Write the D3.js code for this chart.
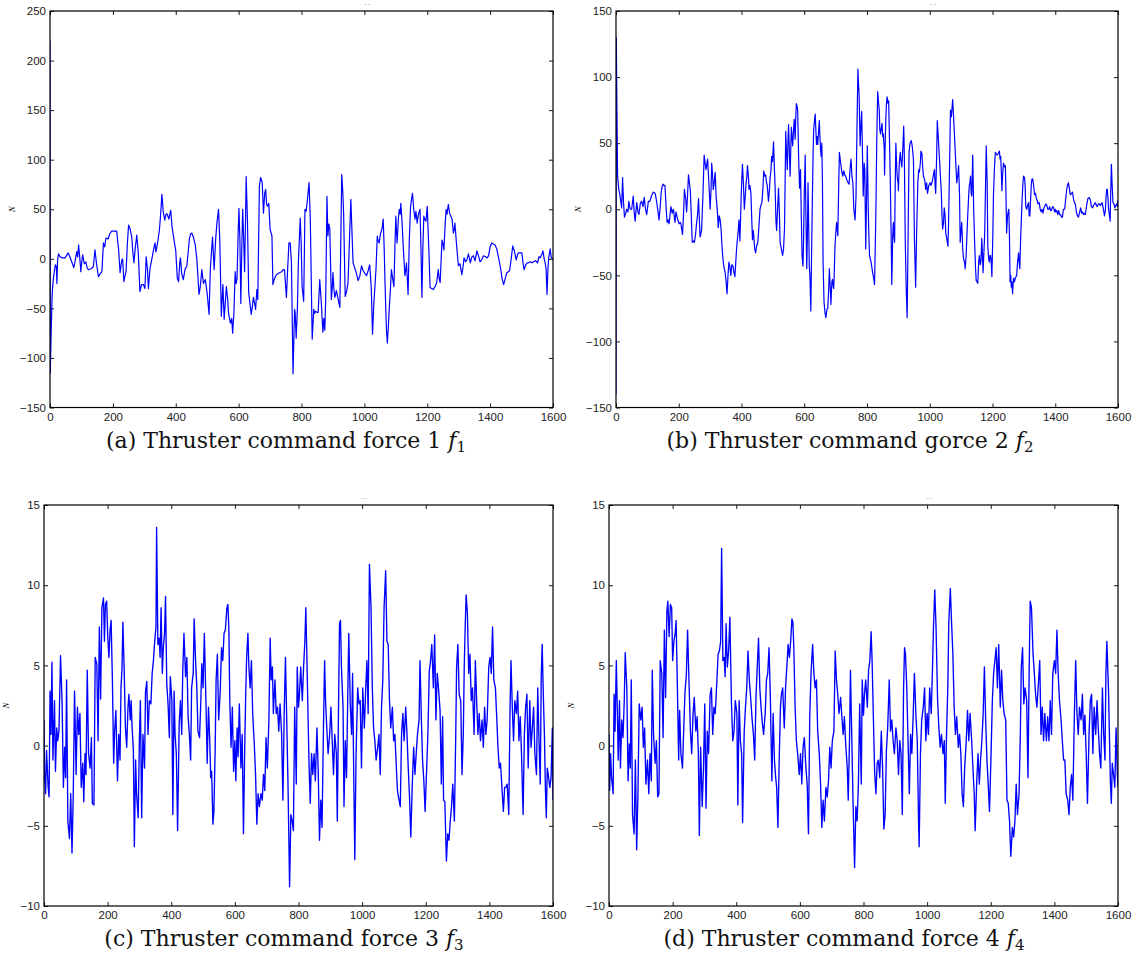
<!DOCTYPE html>
<html>
<head>
<meta charset="utf-8">
<script src="https://cdn.jsdelivr.net/npm/d3@7"></script>
<style>
  body { margin: 0; background: #fff; }
  svg { display: block; }
</style>
</head>
<body>
<svg id="chart" width="1139" height="966"></svg>
<script>
// time steps (x) shared by all four panels
const xTicks = [0, 200, 400, 600, 800, 1000, 1200, 1400, 1600];
const yTicksAB = [-150, -100, -50, 0, 50, 100, 150, 200, 250];
const yTicksCD = [-10, -5, 0, 5, 10, 15];

// thruster command force 1, [step, N]
const forceA = [[0,220],[1,-115],[4,-70],[7,-35],[10,-22],[14,-12],[17,-6],[20,-8],[22,-25],[24,-2],[27,5],
[32,2],[40,1],[48,1],[54,4],[58,6],[63,2],[69,-3],[76,-9],[80,-2],[85,7],[88,2],[91,14],[95,0],[98,-13],[101,-3],[104,4],[109,-5],[114,-3],[118,-9],[122,-11],[130,-10],[138,-8],[143,9],[148,-5],[154,-18],[160,-15],[165,-13],[170,16],[174,12],[178,21],[185,20],[190,25],[196,28],[204,28],[212,28],[218,10],[223,-14],[228,-2],[231,0],[235,-23],[238,-18],[242,-13],[246,15],[250,34],[255,30],[260,22],[264,5],[267,-4],[271,10],[276,24],[281,5],[286,-33],[291,-26],[297,-26],[302,-30],[306,2],[310,-10],[313,-30],[318,-10],[324,0],[330,10],[334,16],[337,7],[340,12],[344,20],[348,29],[352,45],[356,65],[360,48],[365,39],[369,45],[373,45],[378,40],[384,49],[388,33],[393,22],[400,8],[405,-20],[409,-23],[413,-3],[415,1],[419,-15],[424,-21],[430,-10],[435,-8],[440,8],[443,19],[447,25],[451,26],[456,22],[462,14],[467,0],[471,-20],[474,-36],[478,-28],[483,-11],[488,-25],[494,-21],[500,-35],[506,-56],[510,-10],[517,22],[522,-11],[527,20],[531,36],[536,50],[540,20],[545,-58],[550,-26],[554,-61],[561,-28],[565,-40],[568,-55],[574,-65],[578,-60],[581,-75],[585,-55],[589,-13],[592,-25],[595,-20],[598,20],[601,51],[604,20],[607,-45],[610,10],[613,50],[616,20],[619,-13],[622,40],[624,83],[628,40],[632,-34],[636,-45],[640,-56],[643,-50],[647,-39],[651,-45],[654,-51],[658,-31],[661,-41],[666,73],[670,82],[675,77],[679,46],[683,66],[686,70],[689,55],[692,53],[696,56],[700,30],[706,23],[709,-26],[714,-20],[720,-16],[725,-15],[730,-14],[737,-13],[742,-11],[746,-11],[752,-39],[756,-10],[760,16],[764,16],[768,-4],[773,-116],[778,-51],[780,-55],[783,-80],[787,-50],[790,-4],[796,41],[799,15],[802,-28],[807,-43],[811,50],[815,48],[819,60],[824,77],[828,40],[834,-81],[839,-51],[842,-55],[845,-53],[849,-54],[853,-54],[858,-21],[863,-44],[868,-74],[871,-60],[874,-72],[877,-41],[881,63],[884,23],[887,35],[890,30],[895,-41],[898,-28],[900,-14],[903,-30],[906,-39],[911,-32],[916,-40],[922,-49],[928,85],[931,70],[934,46],[939,-38],[944,-32],[948,-24],[957,60],[964,-4],[969,-9],[975,-15],[980,-22],[985,-18],[991,-7],[996,-12],[1002,-15],[1007,-17],[1012,-12],[1017,-6],[1022,-30],[1026,-76],[1030,-45],[1033,-31],[1037,-10],[1041,23],[1044,18],[1047,16],[1051,25],[1054,28],[1057,32],[1060,40],[1063,10],[1066,-28],[1070,-70],[1073,-85],[1076,-70],[1079,-51],[1083,-30],[1086,-11],[1090,-20],[1094,-28],[1097,10],[1100,43],[1104,16],[1108,40],[1111,50],[1114,45],[1116,56],[1120,36],[1124,10],[1129,-17],[1132,-10],[1134,-4],[1139,-36],[1143,20],[1147,53],[1150,60],[1153,66],[1157,50],[1161,40],[1164,48],[1168,36],[1172,45],[1177,50],[1180,10],[1183,-39],[1186,10],[1189,43],[1192,40],[1196,38],[1200,53],[1205,10],[1209,-29],[1214,-30],[1219,-31],[1225,-28],[1230,-24],[1235,-11],[1238,-20],[1241,-24],[1247,19],[1250,15],[1253,9],[1257,35],[1260,50],[1263,45],[1267,55],[1271,46],[1275,43],[1279,40],[1283,26],[1286,30],[1288,36],[1293,15],[1299,-7],[1304,-5],[1310,-16],[1314,-8],[1317,1],[1322,-3],[1326,-1],[1331,5],[1337,-4],[1342,2],[1347,3],[1352,-2],[1358,8],[1363,3],[1368,-3],[1373,-1],[1379,3],[1385,2],[1390,1],[1395,3],[1400,12],[1405,16],[1410,15],[1416,14],[1421,10],[1427,1],[1431,-6],[1434,-11],[1438,-20],[1443,-26],[1448,-20],[1453,-14],[1458,-13],[1462,-12],[1467,0],[1472,13],[1477,8],[1483,-1],[1487,4],[1490,6],[1495,6],[1501,6],[1505,-5],[1508,-11],[1513,-6],[1518,-4],[1522,-4],[1528,-3],[1533,-4],[1538,-3],[1544,-2],[1551,-4],[1555,2],[1559,1],[1564,4],[1568,8],[1572,0],[1575,-4],[1578,-10],[1581,-36],[1584,-10],[1586,0],[1588,4],[1591,10],[1594,2],[1597,0],[1600,0]];

// thruster command force 2
const forceB = [[0,-140],[1,130],[3,75],[5,25],[9,15],[13,10],[18,1],[21,24],[24,5],[27,-6],[31,-3],[34,0],[38,-2],[41,6],[45,0],[50,0],[55,10],[58,-2],[61,-9],[66,5],[70,-2],[73,-4],[78,5],[82,6],[86,2],[90,9],[94,0],[98,-4],[103,6],[108,6],[113,10],[119,13],[125,12],[130,5],[134,-2],[137,-8],[141,2],[144,13],[147,17],[150,19],[153,18],[156,18],[160,0],[163,-10],[166,-8],[169,-11],[172,-5],[175,2],[179,-3],[183,0],[186,-6],[188,-10],[191,-2],[193,-4],[197,-8],[201,-11],[205,-10],[207,-11],[210,-16],[212,-19],[215,-5],[218,15],[222,8],[225,-2],[228,10],[231,26],[234,20],[237,14],[240,-5],[243,-25],[247,-24],[250,-25],[254,-18],[257,-10],[260,-4],[263,8],[266,-10],[268,-21],[271,-18],[273,-15],[277,10],[281,41],[284,35],[287,30],[290,35],[292,38],[296,20],[300,0],[303,15],[305,35],[308,25],[310,15],[313,20],[316,28],[319,10],[321,5],[324,-5],[326,-14],[329,-5],[332,-8],[335,-15],[337,-25],[340,-35],[342,-40],[345,-45],[348,-48],[351,-55],[354,-64],[357,-50],[360,-40],[363,-44],[366,-50],[369,-42],[373,-43],[376,-48],[379,-51],[383,-35],[386,-25],[389,-18],[392,-8],[395,-24],[399,10],[403,34],[406,20],[409,0],[412,10],[414,18],[417,25],[419,33],[422,25],[424,15],[427,18],[430,12],[433,-10],[435,-23],[437,-16],[439,-20],[442,-30],[445,-33],[448,-28],[452,-25],[455,-15],[459,0],[462,3],[465,5],[468,15],[471,29],[474,25],[477,26],[480,20],[482,18],[486,6],[489,15],[491,23],[494,30],[496,40],[499,36],[502,51],[505,30],[507,18],[510,-10],[512,-16],[515,0],[518,16],[521,-5],[523,-25],[527,-30],[531,-35],[534,-30],[537,-15],[539,20],[541,59],[544,40],[546,30],[548,50],[550,64],[553,40],[555,25],[557,45],[559,62],[561,55],[563,48],[566,60],[568,68],[571,53],[573,70],[575,80],[577,78],[579,75],[582,40],[585,16],[588,30],[591,-10],[593,-35],[596,-43],[598,-20],[600,10],[603,41],[605,0],[608,-45],[610,-20],[612,20],[614,-10],[616,-43],[618,-50],[621,-77],[623,-40],[626,10],[628,40],[630,60],[633,68],[635,72],[637,60],[639,49],[641,55],[643,49],[646,60],[648,67],[650,55],[652,45],[654,40],[656,50],[658,20],[660,-40],[663,-70],[666,-78],[669,-82],[672,-76],[675,-75],[678,-60],[680,-45],[683,-60],[685,-72],[688,-55],[690,-53],[692,-58],[694,-60],[696,-45],[698,-28],[700,-20],[703,-10],[705,-15],[707,-20],[710,20],[712,43],[716,35],[720,28],[723,25],[726,29],[729,26],[732,25],[736,22],[740,20],[743,19],[746,30],[749,38],[752,25],[755,20],[758,0],[762,-8],[765,10],[768,60],[771,106],[773,95],[775,85],[777,60],[778,48],[780,60],[783,74],[785,50],[788,10],[791,35],[793,30],[796,-30],[798,0],[801,48],[804,0],[806,-20],[808,-35],[811,-38],[813,-40],[818,-48],[821,-52],[824,-57],[827,-20],[829,10],[831,50],[834,89],[837,80],[839,75],[841,60],[843,57],[846,62],[848,65],[850,55],[852,57],[855,45],[856,26],[858,50],[860,68],[862,80],[864,85],[867,80],[869,82],[871,60],[874,25],[877,-20],[879,-57],[882,-20],[884,-10],[886,-20],[888,-25],[890,20],[892,50],[895,30],[897,23],[899,20],[900,14],[903,35],[906,43],[909,35],[911,32],[914,45],[917,63],[919,40],[922,-25],[925,-60],[928,-82],[931,-20],[934,43],[937,50],[941,52],[944,48],[948,38],[951,-20],[955,-59],[958,-20],[962,20],[965,30],[967,28],[970,35],[972,44],[975,42],[978,30],[980,25],[984,22],[987,15],[990,20],[993,12],[997,18],[1001,20],[1004,18],[1008,21],[1011,25],[1015,30],[1017,18],[1019,12],[1022,40],[1024,67],[1027,55],[1031,38],[1034,25],[1037,12],[1039,-5],[1041,-15],[1044,-10],[1046,1],[1049,-5],[1051,-18],[1054,-22],[1058,-28],[1060,-10],[1062,18],[1064,45],[1066,75],[1069,70],[1073,83],[1076,70],[1079,55],[1082,40],[1086,20],[1089,25],[1092,33],[1095,10],[1097,-25],[1100,-15],[1102,-10],[1105,-30],[1108,-38],[1111,-40],[1113,-45],[1116,-35],[1118,-23],[1121,-5],[1124,10],[1126,18],[1128,20],[1130,25],[1132,12],[1134,10],[1137,41],[1140,0],[1143,-25],[1146,-45],[1148,-54],[1151,-55],[1153,-56],[1156,-40],[1158,-35],[1161,-42],[1163,-40],[1166,-22],[1168,-35],[1170,-48],[1173,-30],[1175,-20],[1178,20],[1180,48],[1183,20],[1185,-28],[1188,-38],[1190,-40],[1192,-35],[1194,-35],[1196,-40],[1198,-51],[1201,-20],[1203,10],[1206,30],[1209,43],[1212,42],[1215,41],[1218,42],[1222,44],[1224,38],[1226,40],[1228,30],[1230,14],[1232,25],[1235,35],[1238,32],[1241,33],[1243,10],[1245,-18],[1248,-5],[1250,-2],[1252,0],[1254,-20],[1256,-55],[1258,-50],[1260,-59],[1262,-55],[1264,-64],[1267,-52],[1270,-55],[1273,-52],[1277,-50],[1280,-40],[1283,-33],[1285,-40],[1287,-45],[1290,-20],[1294,5],[1297,20],[1299,25],[1302,24],[1304,18],[1306,2],[1309,0],[1312,3],[1315,5],[1317,-5],[1319,-5],[1322,10],[1324,20],[1326,23],[1328,23],[1331,18],[1334,11],[1337,12],[1340,8],[1342,7],[1345,4],[1349,5],[1352,0],[1355,-2],[1358,0],[1361,-3],[1363,0],[1366,2],[1368,3],[1370,4],[1373,3],[1376,0],[1379,0],[1382,2],[1385,-1],[1387,-1],[1390,1],[1392,2],[1395,1],[1398,-2],[1400,0],[1402,-2],[1405,-1],[1408,-4],[1411,-1],[1414,-4],[1417,-4],[1420,-6],[1423,-6],[1426,0],[1430,0],[1433,7],[1436,14],[1439,18],[1442,20],[1445,16],[1447,12],[1449,11],[1452,12],[1455,13],[1458,8],[1461,5],[1464,4],[1468,-3],[1471,-5],[1474,-6],[1477,-3],[1481,1],[1484,-3],[1487,-2],[1490,-4],[1493,-3],[1496,-4],[1500,3],[1504,8],[1508,9],[1512,7],[1515,2],[1519,1],[1522,3],[1525,4],[1528,5],[1531,3],[1534,2],[1537,4],[1540,4],[1544,3],[1547,4],[1549,5],[1552,2],[1555,-2],[1557,-5],[1560,0],[1562,10],[1564,15],[1566,15],[1568,8],[1570,0],[1573,-5],[1575,-9],[1577,15],[1579,34],[1581,20],[1584,5],[1587,4],[1590,1],[1593,3],[1596,4],[1598,2],[1600,7]];

// thruster command force 3
const forceC = [[0,1.6],[2,-2.0],[5,-3.0],[8,-0.3],[13,-2.6],[16,-3.2],[19,3.4],[22,0.7],[25,5.2],[28,-0.9],[33,2.8],[36,-1.6],[40,1.1],[43,0.3],[47,0.9],[52,5.6],[57,2.6],[61,-2.6],[65,-0.1],[68,-2.0],[71,4.1],[75,-4.7],[80,-5.8],[84,-3.0],[88,-6.7],[92,-3.0],[96,3.4],[101,-1.8],[105,2.4],[109,0.7],[113,2.0],[117,-2.6],[122,-1.1],[125,-3.5],[129,-0.5],[132,-1.8],[136,4.7],[140,-0.5],[145,-1.4],[149,0.5],[152,-3.6],[157,-3.7],[161,5.5],[166,5.1],[170,0.3],[174,7.4],[178,2.9],[182,8.6],[187,9.2],[190,6.5],[193,8.8],[197,9.0],[200,7.0],[204,5.5],[208,7.3],[211,7.8],[215,4.1],[219,-1.1],[222,0.9],[226,2.2],[231,-2.2],[235,0.7],[239,-0.9],[242,3.6],[245,4.7],[248,7.7],[252,4.7],[256,1.1],[260,-0.1],[264,2.4],[267,3.2],[271,1.6],[274,2.8],[277,1.1],[281,-0.3],[284,-6.3],[288,-0.9],[291,-3.0],[296,-4.5],[300,0.5],[303,2.8],[307,-4.5],[311,0.7],[316,-1.4],[319,3.3],[323,4.0],[327,0.7],[331,2.8],[336,2.6],[340,4.5],[344,5.3],[348,6.5],[352,7.4],[354,13.6],[358,6.3],[362,6.7],[365,5.5],[368,8.6],[372,4.5],[375,6.1],[379,7.0],[382,9.3],[386,3.8],[390,2.6],[394,0.5],[397,4.3],[402,2.8],[405,-4.3],[409,3.4],[412,0.7],[416,-0.5],[420,-5.3],[425,1.4],[429,2.8],[433,0.7],[436,4.5],[440,7.0],[445,4.3],[449,5.5],[453,1.8],[457,0.7],[461,-0.9],[464,3.6],[469,4.5],[472,7.9],[476,5.5],[480,3.8],[484,0.9],[489,0.5],[493,2.8],[496,5.1],[500,3.6],[504,7.0],[509,2.8],[513,-1.1],[517,2.4],[521,0.3],[524,-2.0],[527,-1.6],[531,-4.9],[534,-4.1],[538,-0.3],[541,4.1],[545,5.7],[549,1.6],[554,3.4],[558,6.1],[562,5.3],[566,7.0],[570,7.2],[575,8.6],[578,8.8],[581,7.4],[584,2.8],[588,-0.1],[592,2.4],[596,-1.6],[600,0.3],[603,-2.2],[607,1.1],[610,-0.7],[614,2.6],[619,-1.4],[623,0.7],[627,-5.5],[631,-0.1],[634,3.2],[637,5.5],[641,7.0],[644,4.9],[648,3.6],[652,5.3],[656,2.0],[661,0.1],[665,-1.8],[669,-4.9],[673,-3.0],[677,-3.8],[682,-3.0],[686,-3.4],[690,-1.8],[694,-2.8],[698,0.5],[702,-1.4],[707,1.6],[711,6.7],[714,4.1],[718,4.9],[721,2.0],[726,4.1],[730,2.0],[734,2.4],[738,0.9],[742,2.6],[747,0.7],[751,-3.4],[755,2.0],[759,5.5],[763,1.6],[767,-2.4],[772,-8.8],[776,-4.3],[780,-4.7],[784,-5.3],[788,2.4],[793,-2.4],[796,4.9],[800,2.4],[803,3.2],[807,4.9],[812,2.8],[816,4.9],[820,6.5],[823,8.6],[826,5.9],[829,2.8],[833,-1.1],[837,-3.6],[841,-0.5],[845,-1.8],[849,-0.5],[853,-2.2],[858,1.1],[862,-1.6],[866,-5.9],[870,-3.4],[874,-5.1],[879,1.8],[882,5.3],[885,2.8],[889,1.1],[893,-0.5],[898,0.7],[902,2.4],[906,0.3],[910,-1.8],[914,0.7],[919,-0.5],[922,-4.7],[926,2.8],[929,7.6],[932,7.8],[935,4.9],[940,2.4],[943,-3.8],[947,0.3],[951,-2.0],[954,2.0],[958,7.0],[963,2.4],[967,0.7],[970,4.5],[974,-2.4],[977,-7.1],[981,-0.5],[986,3.6],[990,2.6],[994,2.8],[998,-1.4],[1002,3.6],[1007,1.1],[1011,3.4],[1015,5.3],[1019,2.0],[1023,11.3],[1028,8.6],[1032,3.6],[1036,1.1],[1040,0.3],[1044,-0.9],[1049,-0.1],[1053,0.7],[1057,-1.8],[1061,2.4],[1065,4.1],[1069,8.6],[1074,10.9],[1078,6.5],[1082,6.3],[1086,2.8],[1090,1.1],[1095,2.4],[1099,0.3],[1103,0.7],[1107,-1.1],[1111,-2.8],[1116,-3.4],[1120,-3.8],[1124,0.7],[1128,2.0],[1132,0.3],[1137,2.4],[1141,0.7],[1145,-1.4],[1149,-3.2],[1153,-5.7],[1158,-2.2],[1162,-0.1],[1166,-1.8],[1170,-0.5],[1174,0.7],[1179,1.6],[1182,5.3],[1186,1.8],[1190,-0.9],[1194,-2.2],[1198,-4.1],[1203,-1.4],[1207,0.9],[1211,4.6],[1215,5.3],[1219,6.3],[1224,3.6],[1228,6.9],[1232,1.6],[1236,4.5],[1240,3.6],[1245,2.2],[1249,-2.4],[1253,1.8],[1256,-3.4],[1260,-3.5],[1265,-7.2],[1269,-5.5],[1273,-5.9],[1277,-4.7],[1281,-3.8],[1285,-2.4],[1290,-4.7],[1294,0.3],[1297,4.9],[1301,6.3],[1305,3.2],[1310,2.8],[1314,-1.8],[1318,0.7],[1321,4.9],[1324,7.4],[1327,9.4],[1331,8.2],[1335,4.5],[1339,5.7],[1343,2.8],[1347,3.6],[1352,0.7],[1356,5.3],[1360,2.8],[1364,0.7],[1368,2.0],[1372,0.3],[1377,1.6],[1381,-0.1],[1385,2.4],[1389,0.7],[1393,1.6],[1398,4.9],[1402,5.5],[1406,4.5],[1410,7.4],[1414,4.1],[1419,3.6],[1423,1.8],[1427,-0.1],[1431,-1.4],[1435,-1.1],[1440,-2.8],[1444,-4.1],[1448,-2.6],[1452,-2.6],[1456,-2.4],[1461,-4.3],[1465,2.4],[1468,5.3],[1472,2.4],[1476,0.3],[1480,2.8],[1485,2.0],[1489,3.4],[1493,0.3],[1497,1.8],[1501,-0.5],[1506,-4.3],[1510,0.7],[1514,2.4],[1518,3.2],[1522,-1.4],[1527,2.8],[1531,-0.1],[1535,1.1],[1539,2.4],[1543,-0.5],[1548,-1.8],[1552,3.6],[1556,0.3],[1560,-2.4],[1563,4.3],[1566,6.3],[1570,2.8],[1573,0.7],[1576,-2.6],[1579,-4.5],[1582,-1.4],[1585,-1.8],[1590,-2.6],[1594,-2.0],[1598,1.1],[1600,-3.4]];

// thruster command force 4
const forceD = [[0,0.7],[2,-2.8],[5,-0.5],[8,-2.0],[13,-3.0],[16,3.2],[19,0.9],[23,5.3],[26,2.4],[29,-0.9],[33,2.8],[36,-1.4],[40,1.6],[44,0.5],[48,2.8],[51,5.8],[56,3.6],[60,-2.2],[64,0.1],[67,-1.4],[70,4.1],[74,-4.3],[79,-5.5],[83,-0.9],[87,-6.5],[91,-3.0],[95,2.6],[100,1.6],[104,2.4],[108,-0.1],[112,1.1],[116,-2.4],[121,-0.9],[125,-3.0],[129,-0.5],[133,-2.2],[136,4.7],[140,0.7],[145,-1.1],[149,0.3],[153,-3.2],[157,-3.0],[161,5.3],[166,4.5],[170,0.5],[174,7.2],[178,3.0],[182,8.4],[185,9.0],[189,6.8],[193,8.8],[197,8.6],[200,5.3],[204,6.5],[208,7.0],[211,7.8],[215,3.6],[219,-0.9],[222,2.2],[226,-0.5],[231,-1.4],[235,1.1],[239,3.4],[243,4.3],[247,7.2],[252,3.6],[256,0.9],[260,-0.5],[264,1.9],[268,3.0],[273,0.9],[277,1.8],[281,-0.5],[284,-5.6],[288,-0.1],[293,-3.8],[297,-1.4],[301,2.6],[305,-3.9],[309,0.9],[313,-0.5],[318,3.2],[322,3.6],[326,0.7],[330,2.4],[334,2.0],[339,4.0],[343,5.7],[347,5.9],[351,6.5],[354,12.3],[358,5.3],[362,5.5],[365,4.3],[368,7.6],[372,4.9],[376,5.9],[380,8.0],[385,2.6],[389,0.3],[393,0.9],[397,2.8],[402,2.0],[405,-3.7],[409,2.8],[413,0.3],[417,-0.5],[420,-4.8],[425,0.9],[429,2.4],[433,3.6],[437,5.9],[441,4.1],[446,2.8],[450,1.6],[454,0.7],[458,-0.9],[462,3.0],[466,4.9],[470,6.7],[474,3.6],[478,2.4],[482,1.4],[486,0.7],[491,2.0],[495,4.1],[499,4.5],[503,6.1],[507,3.2],[512,-2.2],[516,2.0],[520,-0.9],[524,-2.0],[527,-2.6],[531,-5.1],[535,-0.9],[539,2.4],[542,3.2],[546,3.6],[551,1.1],[555,3.6],[559,4.9],[563,6.3],[567,5.5],[571,6.5],[575,7.9],[578,7.7],[581,6.1],[585,2.4],[589,0.3],[593,-0.5],[598,-1.8],[602,-0.5],[606,-2.4],[610,-0.1],[614,0.5],[619,-1.4],[623,-2.4],[627,-5.5],[631,1.8],[635,4.5],[640,6.3],[644,4.5],[648,3.6],[652,4.1],[656,0.9],[661,-0.5],[665,-2.4],[669,-5.1],[673,-3.4],[677,-4.7],[682,-2.6],[686,-3.2],[690,-2.2],[694,-0.1],[698,-1.4],[702,0.3],[707,0.9],[711,5.9],[715,4.1],[719,3.2],[723,2.0],[728,3.0],[732,1.8],[736,0.7],[740,1.8],[744,0.1],[749,-1.4],[752,-3.4],[756,0.3],[759,4.7],[763,0.7],[767,-3.4],[772,-7.6],[776,-3.8],[780,-4.7],[784,-2.4],[788,2.6],[793,-2.4],[796,4.1],[800,1.9],[803,3.2],[807,4.1],[812,2.4],[816,4.7],[820,5.3],[824,7.1],[827,5.3],[831,1.8],[835,-1.6],[839,-3.0],[843,-1.1],[847,-0.9],[851,-2.0],[856,0.9],[860,-1.4],[864,-5.2],[868,-4.3],[872,-0.3],[876,1.1],[881,4.1],[885,0.9],[889,1.6],[893,0.3],[897,-0.5],[902,1.1],[906,0.3],[910,-1.8],[914,0.3],[918,-0.5],[922,-4.3],[926,3.6],[929,6.1],[932,5.7],[936,3.6],[941,-0.5],[944,-3.0],[948,0.7],[952,-0.5],[956,1.8],[960,4.5],[965,1.8],[969,0.3],[973,-4.7],[975,-6.3],[979,-0.5],[983,1.6],[988,2.4],[992,3.6],[996,0.3],[1000,2.0],[1004,0.7],[1008,3.6],[1013,2.0],[1017,4.9],[1020,7.4],[1024,9.7],[1028,7.4],[1033,2.8],[1037,1.1],[1041,-0.1],[1045,0.7],[1050,-0.5],[1054,0.3],[1057,-3.6],[1061,0.7],[1065,3.6],[1068,7.6],[1073,9.8],[1077,7.6],[1081,5.7],[1085,2.4],[1089,0.7],[1093,1.8],[1098,-0.1],[1102,0.7],[1106,-0.5],[1110,-3.0],[1114,-3.8],[1118,-1.4],[1123,0.3],[1127,2.2],[1131,0.3],[1135,2.0],[1140,0.3],[1144,-1.4],[1148,-3.0],[1151,-5.3],[1156,-2.2],[1160,-0.5],[1164,-2.4],[1168,-0.9],[1172,0.3],[1176,1.9],[1180,4.9],[1184,1.6],[1188,-0.9],[1192,-2.4],[1196,-4.1],[1201,-0.5],[1205,2.8],[1209,4.5],[1213,5.3],[1217,6.1],[1221,3.6],[1225,6.3],[1230,2.4],[1234,4.7],[1238,2.8],[1242,2.0],[1247,1.6],[1251,-3.4],[1255,-3.6],[1259,-4.7],[1263,-6.9],[1268,-5.1],[1272,-5.7],[1276,-4.7],[1280,-2.4],[1284,-4.3],[1289,-3.0],[1293,0.7],[1296,4.9],[1300,6.1],[1304,2.6],[1308,3.6],[1313,2.8],[1317,-2.0],[1321,5.1],[1324,9.0],[1328,8.6],[1333,5.7],[1337,4.5],[1341,3.2],[1345,2.4],[1349,3.6],[1354,5.3],[1358,0.7],[1362,2.4],[1366,0.3],[1370,2.0],[1375,0.3],[1379,1.8],[1383,0.3],[1387,2.8],[1391,0.7],[1395,4.5],[1400,5.3],[1404,4.5],[1408,7.2],[1412,4.5],[1416,2.8],[1421,1.6],[1425,0.3],[1429,-0.9],[1433,-0.9],[1437,-3.0],[1442,-3.4],[1446,-4.3],[1450,-2.6],[1454,-1.8],[1458,-3.4],[1463,2.0],[1467,5.3],[1471,2.0],[1475,0.7],[1479,2.4],[1484,1.6],[1488,3.2],[1492,0.7],[1496,1.9],[1500,-0.5],[1504,-3.6],[1509,0.7],[1513,2.8],[1517,3.2],[1521,-0.5],[1525,2.4],[1530,0.7],[1534,2.8],[1538,1.1],[1542,-0.5],[1546,-1.4],[1551,3.6],[1555,0.7],[1559,-0.9],[1562,4.5],[1565,6.5],[1570,3.6],[1573,0.7],[1576,-2.2],[1579,-3.6],[1582,-1.1],[1586,-1.8],[1590,-2.6],[1594,1.1],[1598,-1.8],[1600,-2.6]];

const captions = [
  {label: "(a) Thruster command force 1 ", sub: "1"},
  {label: "(b) Thruster command gorce 2 ", sub: "2"},
  {label: "(c) Thruster command force 3 ", sub: "3"},
  {label: "(d) Thruster command force 4 ", sub: "4"}
];

const svg = d3.select("#chart");

const panels = [
  {data: forceA, yDomain: [-150, 250], yTicks: yTicksAB, box: {x0: 50, x1: 553, y0: 11, y1: 407.5}, capX: 286, cap: captions[0]},
  {data: forceB, yDomain: [-150, 150], yTicks: yTicksAB.slice(0, 7), box: {x0: 616, x1: 1118, y0: 11, y1: 407.5}, capX: 850, cap: captions[1]},
  {data: forceC, yDomain: [-10, 15], yTicks: yTicksCD, box: {x0: 44, x1: 553, y0: 505, y1: 906}, capX: 284, cap: captions[2]},
  {data: forceD, yDomain: [-10, 15], yTicks: yTicksCD, box: {x0: 609, x1: 1118, y0: 505, y1: 906}, capX: 844, cap: captions[3]}
];

const fmt = d => d < 0 ? "\u2212" + Math.abs(d) : String(d);

panels.forEach((p, i) => {
  const b = p.box;
  const x = d3.scaleLinear().domain([0, 1600]).range([b.x0, b.x1]);
  const y = d3.scaleLinear().domain(p.yDomain).range([b.y1, b.y0]);
  const g = svg.append("g").attr("class", `panel-${i}`);

  // clip for the trace
  g.append("clipPath").attr("id", `clip-${i}`)
    .append("rect")
    .attr("x", b.x0).attr("y", b.y0)
    .attr("width", b.x1 - b.x0).attr("height", b.y1 - b.y0);

  // axes, ticks pointing inward on all four sides
  const styleAxis = sel => {
    sel.select(".domain").remove();
    sel.selectAll(".tick line").attr("stroke", "#000").attr("stroke-width", 0.9);
    sel.selectAll(".tick text")
      .style("font-family", "'Liberation Sans', Arial, sans-serif")
      .style("font-size", "11.5px")
      .attr("fill", "#222");
  };

  g.append("g").attr("transform", `translate(0,${b.y1})`)
    .call(d3.axisBottom(x).tickValues(xTicks).tickSize(-4).tickSizeOuter(0).tickPadding(5).tickFormat(fmt))
    .call(styleAxis);
  g.append("g").attr("transform", `translate(0,${b.y0})`)
    .call(d3.axisTop(x).tickValues(xTicks).tickSize(-4).tickSizeOuter(0).tickFormat(""))
    .call(styleAxis);
  g.append("g").attr("transform", `translate(${b.x0},0)`)
    .call(d3.axisLeft(y).tickValues(p.yTicks).tickSize(-4).tickSizeOuter(0).tickPadding(4).tickFormat(fmt))
    .call(styleAxis);
  g.append("g").attr("transform", `translate(${b.x1},0)`)
    .call(d3.axisRight(y).tickValues(p.yTicks).tickSize(-4).tickSizeOuter(0).tickFormat(""))
    .call(styleAxis);

  // trace
  const line = d3.line().x(d => x(d[0])).y(d => y(d[1]));
  g.append("path")
    .datum(p.data)
    .attr("clip-path", `url(#clip-${i})`)
    .attr("d", line)
    .attr("fill", "none")
    .attr("stroke", "#0000ff")
    .attr("stroke-width", i < 2 ? 1.2 : 1.35)
    .attr("stroke-linejoin", "round");

  // frame
  g.append("rect")
    .attr("x", b.x0).attr("y", b.y0)
    .attr("width", b.x1 - b.x0).attr("height", b.y1 - b.y0)
    .attr("fill", "none")
    .attr("stroke", "#000")
    .attr("stroke-width", 1.2);

  // y label
  g.append("text")
    .attr("transform", `translate(${b.x0 - 35},${(b.y0 + b.y1) / 2}) rotate(-90)`)
    .attr("text-anchor", "middle")
    .style("font-family", "'Liberation Serif', serif")
    .style("font-style", "italic")
    .style("font-size", "9px")
    .text("N");

  // clipped title remnant
  g.append("text")
    .attr("x", (b.x0 + b.x1) / 2 + 66)
    .attr("y", b.y0 - 5)
    .attr("text-anchor", "middle")
    .style("font-family", "'Liberation Sans', sans-serif")
    .style("font-size", "6px")
    .attr("fill", "#666")
    .text("- -");

  // caption
  const cap = g.append("text")
    .attr("x", p.capX)
    .attr("y", b.y1 + 40)
    .attr("text-anchor", "middle")
    .style("font-family", "'DejaVu Serif', serif")
    .style("font-size", "22px")
    .attr("fill", "#111");
  cap.append("tspan").text(p.cap.label);
  cap.append("tspan").style("font-style", "italic").text("f");
  cap.append("tspan").attr("dy", 4).style("font-size", "15px").text(p.cap.sub);
});
</script>
</body>
</html>
